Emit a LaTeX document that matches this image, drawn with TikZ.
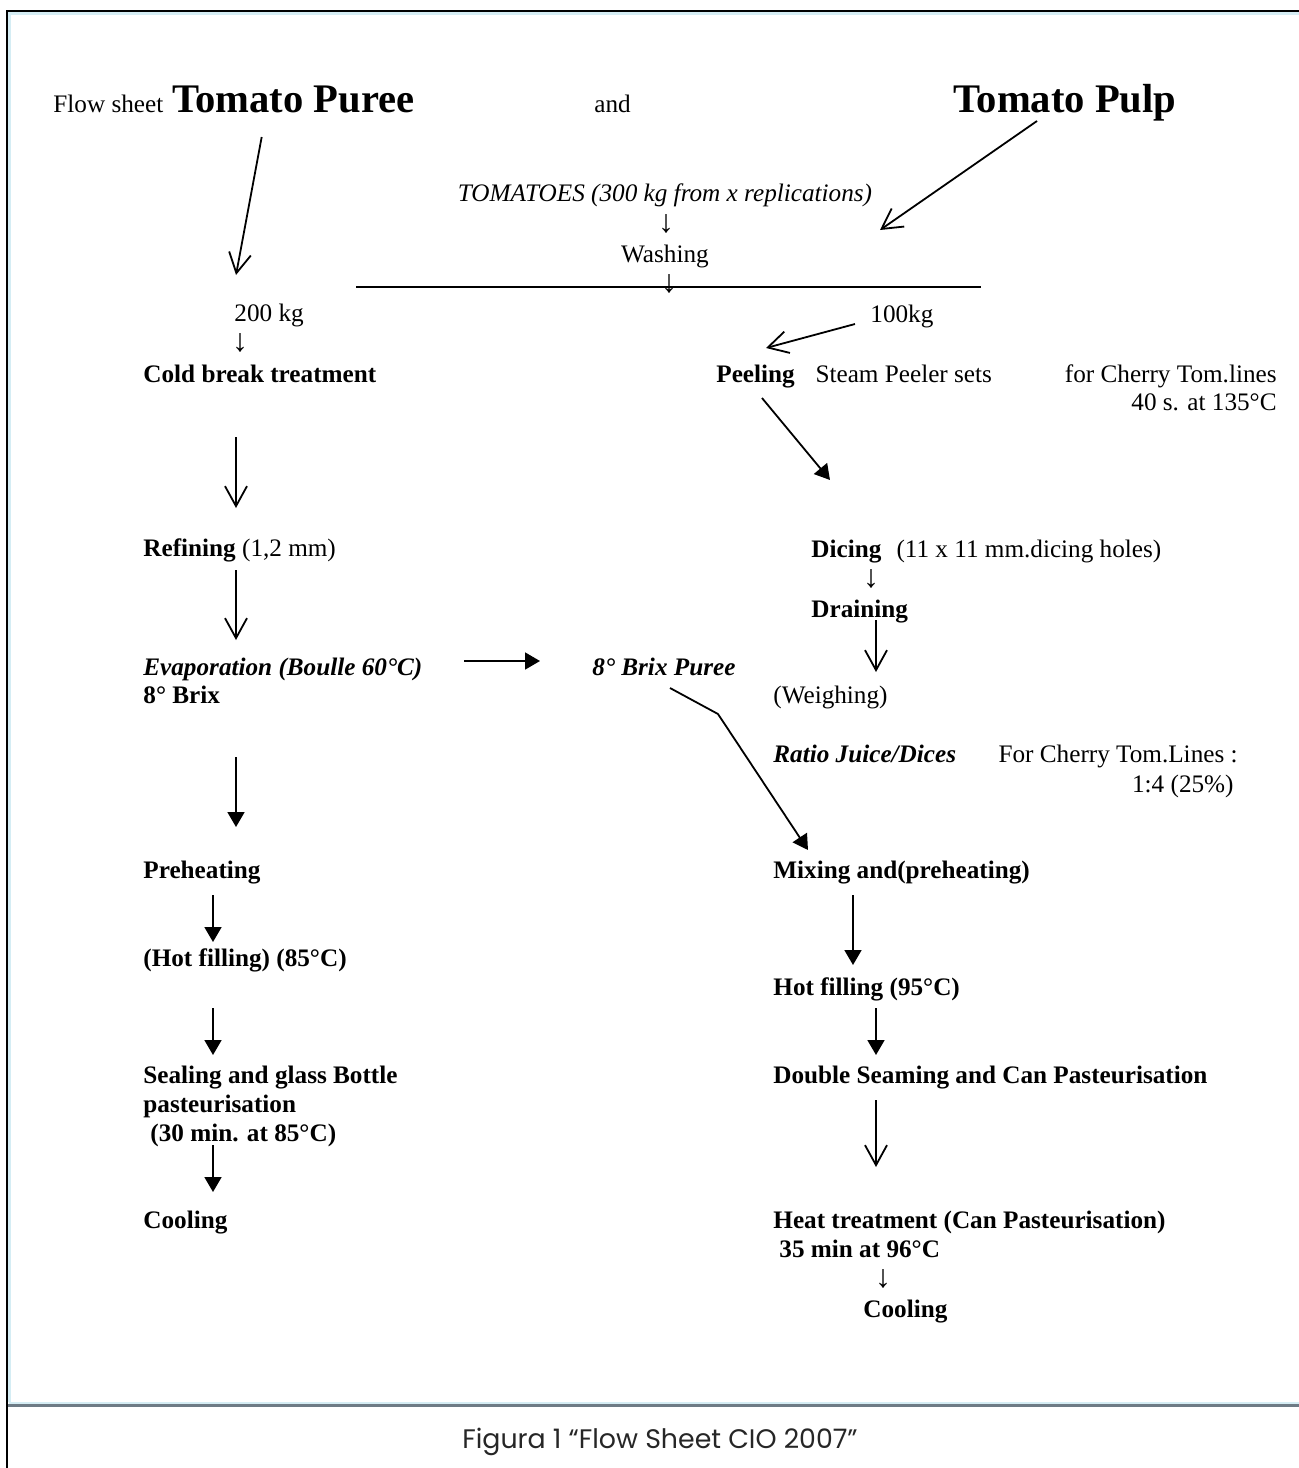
\documentclass[tikz,border=0pt]{standalone}
\usepackage{fontspec}
\setmainfont{Liberation Serif}
\newfontfamily\captionfont{Poppins}
\usetikzlibrary{arrows.meta, positioning}

\definecolor{framecyan}{HTML}{D5EDF4}
\definecolor{framegrey}{HTML}{6E7B85}

\begin{document}
\begin{tikzpicture}[x=0.5pt,y=-0.5pt,
    plain node/.style={inner sep=0pt, anchor=base west, font=\fontsize{12.6}{15}\selectfont},
    step node/.style={plain node, font=\fontsize{12.6}{15}\selectfont\bfseries},
    big node/.style={plain node, font=\fontsize{20.3}{24}\selectfont\bfseries},
    glyph node/.style={inner sep=0pt, font=\fontsize{16}{18}\selectfont},
    open arrow/.style={line width=0.9pt, -{Straight Barb[length=10pt,width=11pt]}},
    solid arrow/.style={line width=0.9pt, -{Triangle[length=7.5pt,width=8.5pt]}}]

  \useasboundingbox (0,0) rectangle (1299,1468);

  % frame and caption
  \draw[line width=1pt] (7,1468) -- (7,11) -- (1299,11);
  \draw[framecyan, line width=1.5pt] (9.5,1402) -- (9.5,13.5) -- (1299,13.5);
  \draw[framecyan, line width=1pt] (9,1403) -- (1299,1403);
  \draw[framegrey, line width=1.2pt] (8,1405.5) -- (1299,1405.5);
  \node[inner sep=0pt, text=black!85, font=\captionfont\fontsize{13.4}{16}\selectfont] (caption) at (660,1442) {Figura 1 “Flow Sheet CIO 2007”};

  % titles
  \node[plain node] (flow) at (53,112) {Flow sheet};
  \node[big node, base right=4pt of flow] (puree) {Tomato Puree};
  \node[plain node] (and) at (594,112) {and};
  \node[big node] (pulp) at (953,112) {Tomato Pulp};

  % raw material
  \node[plain node, anchor=base, font=\fontsize{12.6}{15}\selectfont\itshape] (tomatoes) at (665,201) {TOMATOES (300 kg from x replications)};
  \node[glyph node] (d1) at (666,224) {↓};
  \node[plain node, anchor=base] (washing) at (665,262) {Washing};
  \coordinate (splitL) at (356,287);
  \coordinate (splitR) at (981,287);
  \draw[line width=0.9pt] (splitL) -- (splitR);
  \node[glyph node] (d2) at (669,284) {↓};

  % puree line
  \node[plain node] (kg200) at (234,321) {200 kg};
  \node[glyph node] (d3) at (240,343) {↓};
  \node[step node] (cold) at (143,382) {Cold break treatment};
  \node[step node] (refining) at (143,556) {Refining \textnormal{(1,2 mm)}};
  \node[step node] (evap) at (143,675) {\itshape Evaporation (Boulle 60°C)};
  \node[step node] (brix8) at (143,703) {8° Brix};
  \node[step node] (preheat) at (143,878) {Preheating};
  \node[step node] (hotL) at (143,966) {(Hot filling) (85°C)};
  \node[step node] (seal1) at (143,1083) {Sealing and glass Bottle};
  \node[step node] (seal2) at (143,1112) {pasteurisation};
  \node[step node] (seal3) at (150,1141) {(30 min. at 85°C)};
  \node[step node] (coolL) at (143,1228) {Cooling};

  % pulp line
  \node[plain node] (kg100) at (870,322) {100kg};
  \node[step node] (peeling) at (716,382) {Peeling};
  \node[plain node, base right=10pt of peeling] (steam) {Steam Peeler sets};
  \node[plain node, anchor=base east] (cherry1) at (1277,382) {for Cherry Tom.lines};
  \node[plain node, anchor=base east] (cherry2) at (1277,410) {40 s. at 135°C};
  \node[step node] (dicing) at (811,557) {Dicing\hspace{0.6em}\textnormal{(11 x 11 mm.dicing holes)}};
  \node[glyph node] (d4) at (871,579) {↓};
  \node[step node] (draining) at (811,617) {Draining};
  \node[step node] (brixP) at (592,675) {\itshape 8° Brix Puree};
  \node[plain node] (weighing) at (773,703) {(Weighing)};
  \node[step node] (ratio) at (773,762) {\itshape Ratio Juice/Dices};
  \node[plain node, anchor=base east] (ratio1) at (1238,762) {For Cherry Tom.Lines :};
  \node[plain node, anchor=base east] (ratio2) at (1234,792) {1:4 (25\%)};
  \node[step node] (mixing) at (773,878) {Mixing and(preheating)};
  \node[step node] (hotR) at (773,995) {Hot filling (95°C)};
  \node[step node] (dseam) at (773,1083) {Double Seaming and Can Pasteurisation};
  \node[step node] (heat) at (773,1228) {Heat treatment (Can Pasteurisation)};
  \node[step node] (heat2) at (779,1257) {35 min at 96°C};
  \node[glyph node] (d5) at (883,1279) {↓};
  \node[step node] (coolR) at (863,1317) {Cooling};
  \coordinate (bend) at (718,714);

  % connectors, left
  \draw[open arrow] ([shift={(90,25)}]puree.base west) -- ([shift={(2,-46)}]kg200.base west);
  \draw[open arrow] ([shift={(93,55)}]cold.base west) -- ([shift={(93,-48)}]refining.base west);
  \draw[open arrow] ([shift={(93,14)}]refining.base west) -- ([shift={(93,-35)}]evap.base west);
  \draw[solid arrow] ([shift={(321,-14)}]evap.base west) -- ([shift={(-52,-14)}]brixP.base west);
  \draw[solid arrow] ([shift={(93,54)}]brix8.base west) -- ([shift={(93,-51)}]preheat.base west);
  \draw[solid arrow] ([shift={(70,17)}]preheat.base west) -- ([shift={(70,-24)}]hotL.base west);
  \draw[solid arrow] ([shift={(70,42)}]hotL.base west) -- ([shift={(70,-28)}]seal1.base west);
  \draw[solid arrow] ([shift={(63,4)}]seal3.base west) -- ([shift={(70,-36)}]coolL.base west);

  % connectors, right
  \draw[open arrow] ([shift={(84,9)}]pulp.base west) -- ([shift={(10,-92)}]kg100.base west);
  \draw[open arrow] ([shift={(-15,2)}]kg100.base west) -- ([shift={(50,-34)}]peeling.base west);
  \draw[solid arrow] ([shift={(46,16)}]peeling.base west) -- ([shift={(19,-77)}]dicing.base west);
  \draw[open arrow] ([shift={(65,3)}]draining.base west) -- ([shift={(103,-31)}]weighing.base west);
  \draw[solid arrow] ([shift={(78,13)}]brixP.base west) -- (bend) -- ([shift={(35,-28)}]mixing.base west);
  \draw[solid arrow] ([shift={(80,17)}]mixing.base west) -- ([shift={(80,-30)}]hotR.base west);
  \draw[solid arrow] ([shift={(103,13)}]hotR.base west) -- ([shift={(103,-28)}]dseam.base west);
  \draw[open arrow] ([shift={(103,17)}]dseam.base west) -- ([shift={(103,-61)}]heat.base west);

\end{tikzpicture}
\end{document}
